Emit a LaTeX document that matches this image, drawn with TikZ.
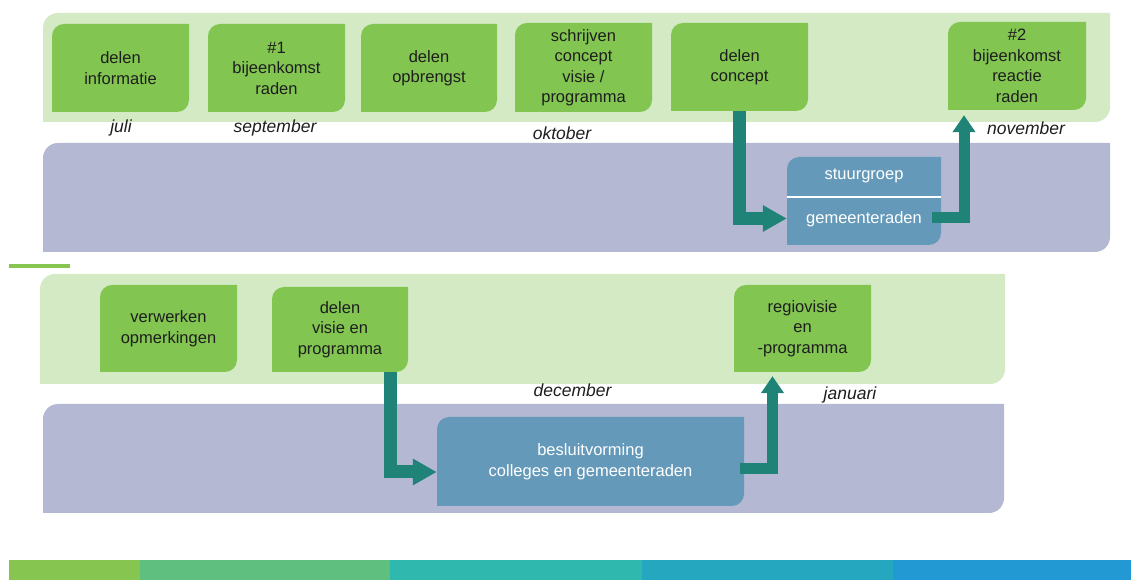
\documentclass[tikz,border=0pt]{standalone}
\usepackage{fontspec}
\setmainfont{Liberation Sans}
\usetikzlibrary{calc,arrows.meta}
\definecolor{bandG}{RGB}{211,234,196}
\definecolor{bandP}{RGB}{180,184,211}
\definecolor{boxG}{RGB}{130,197,80}
\definecolor{boxB}{RGB}{100,153,186}
\definecolor{arrC}{RGB}{31,131,120}
\definecolor{txt}{RGB}{30,30,30}
\definecolor{barA}{RGB}{134,197,80}
\definecolor{barB}{RGB}{95,191,127}
\definecolor{barC}{RGB}{46,184,174}
\definecolor{barD}{RGB}{38,167,192}
\definecolor{barE}{RGB}{35,153,211}
\begin{document}
\begin{tikzpicture}[x=1pt,y=1pt,
  rd/.style 2 args={path picture={
     \coordinate (pNW) at (path picture bounding box.north west);
     \coordinate (pNE) at (path picture bounding box.north east);
     \coordinate (pSE) at (path picture bounding box.south east);
     \coordinate (pSW) at (path picture bounding box.south west);
     \fill[#1] (pSW) -- ($(pNW)+(0pt,-#2)$)
       .. controls ($(pNW)+(0pt,-0.45*#2)$) and ($(pNW)+(0.45*#2,0pt)$) .. ($(pNW)+(#2,0pt)$)
       -- (pNE) -- ($(pSE)+(0pt,#2)$)
       .. controls ($(pSE)+(0pt,0.45*#2)$) and ($(pSE)+(-0.45*#2,0pt)$) .. ($(pSE)+(-#2,0pt)$)
       -- cycle;}},
  band/.style={rd={#1}{15pt}, inner sep=0pt},
  gbox/.style={rd={boxG}{12pt}, inner sep=0pt, align=center, text=txt,
     minimum width=137pt, minimum height=88pt,
     font=\fontsize{16.5}{20.5}\selectfont},
  bbox/.style={rd={boxB}{12pt}, inner sep=0pt, align=center, text=white,
     font=\fontsize{16.5}{20.5}\selectfont},
  wtext/.style={text=white, inner sep=0pt, font=\fontsize{16.5}{20.5}\selectfont},
  month/.style={text=txt, inner sep=0pt, font=\fontsize{17.5}{21}\selectfont\itshape},
  bigarrow/.style={draw=arrC, line width=13pt, -{Triangle[width=25pt,length=24pt]}},
  smallarrow/.style={draw=arrC, line width=11pt, -{Triangle[width=22pt,length=17pt]}},
]
\useasboundingbox (0,0) rectangle (1131,580);
\fill[white] (0,0) rectangle (1131,580);

% bands
\node[band=bandG, minimum width=1067pt, minimum height=109pt] (G1) at (576.5,512.5) {};
\node[band=bandP, minimum width=1067pt, minimum height=109pt] (P1) at (576.5,382.5) {};
\node[band=bandG, minimum width=965pt, minimum height=110pt] (G2) at (522.5,251) {};
\node[band=bandP, minimum width=961pt, minimum height=109pt] (P2) at (523.5,121.5) {};

% separator line
\fill[barA] (9,312) rectangle (70,316);

% bottom bar
\fill[barA] (9,0) rectangle (140,20);
\fill[barB] (140,0) rectangle (390,20);
\fill[barC] (390,0) rectangle (642,20);
\fill[barD] (642,0) rectangle (893,20);
\fill[barE] (893,0) rectangle (1131,20);

% top row boxes
\node[gbox] (n1) at (120.5,512) {delen\\informatie};
\node[gbox] (n2) at (276.5,512) {\#1\\bijeenkomst\\raden};
\node[gbox, minimum width=136pt] (n3) at (429,512) {delen\\opbrengst};
\node[gbox, minimum height=89pt] (n4) at (583.5,512.5) {schrijven\\concept\\visie /\\programma};
\node[gbox] (n5) at (739.5,513) {delen\\concept};
\node[gbox, minimum width=138pt] (n6) at (1017,514) {\#2\\bijeenkomst\\reactie\\raden};

% months top
\node[month] (m1) at (121,452) {juli};
\node[month] (m2) at (275,452) {september};
\node[month] (m3) at (562,447) {oktober};
\node[month] (m4) at (1026,452) {november};

% stuurgroep box
\node[bbox, minimum width=154pt, minimum height=88pt] (stuur) at (864,379) {};
\node[wtext] (sg1) at (864,404) {stuurgroep};
\node[wtext] (sg2) at (864,361) {gemeenteraden};
\draw[white, line width=1.5pt] ([yshift=4pt]stuur.west) -- ([yshift=4pt]stuur.east);

% bottom row boxes
\node[gbox, minimum height=87pt] (b1) at (168.5,251.5) {verwerken\\opmerkingen};
\node[gbox, minimum width=136pt, minimum height=85pt] (b2) at (340,250.5) {delen\\visie en\\programma};
\node[gbox, minimum height=87pt] (b3) at (802.5,251.5) {regiovisie\\en\\-programma};

% months bottom
\node[month] (m5) at (572.5,190) {december};
\node[month] (m6) at (850,185) {januari};

% besluitvorming
\node[bbox, minimum width=307pt, minimum height=89pt] (bes) at (590.5,118.5) {besluitvorming\\colleges en gemeenteraden};

% arrows
\draw[bigarrow] (n5.south) |- ([yshift=-17.5pt]stuur.west);
\draw[smallarrow] ([xshift=-9pt,yshift=-17pt]stuur.east) -| ([xshift=-53pt,yshift=-5pt]n6.south);
\draw[bigarrow] ([xshift=50pt]b2.south) |- ([yshift=-10.5pt]bes.west);
\draw[smallarrow] ([xshift=-4pt,yshift=-7.5pt]bes.east) -| ([xshift=-30pt,yshift=-4pt]b3.south);
\end{tikzpicture}
\end{document}
